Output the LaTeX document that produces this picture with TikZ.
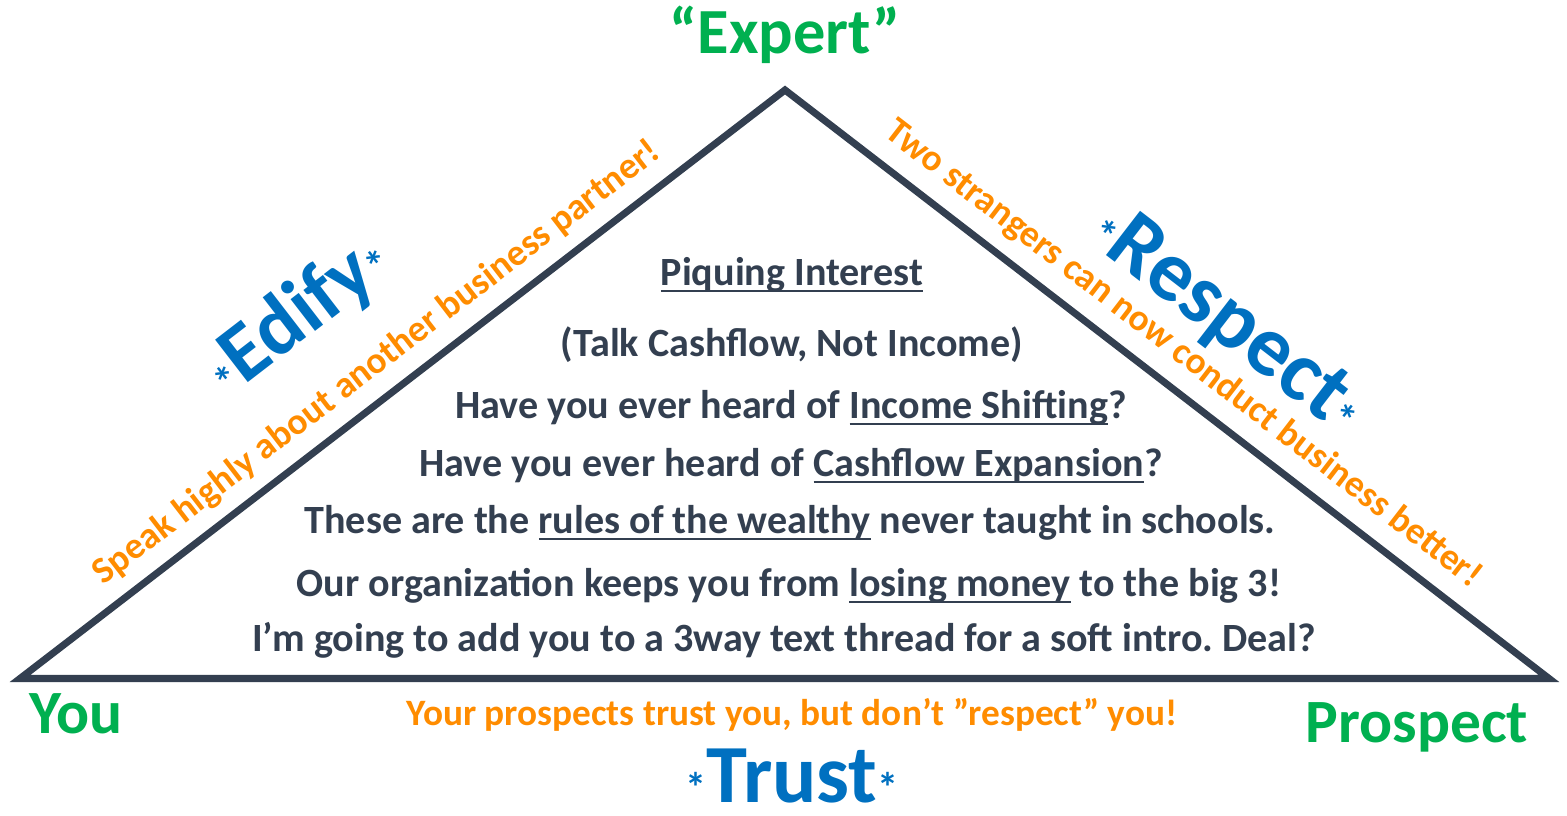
\documentclass[tikz,border=0pt]{standalone}
\usepackage{fontspec}
\setmainfont{Carlito}
\usepackage{tikz}

\definecolor{slate}{HTML}{333F50}
\definecolor{wingreen}{HTML}{00B050}
\definecolor{pillarblue}{HTML}{0070C0}
\definecolor{hintorange}{HTML}{FF8C00}

\newcommand{\undl}[1]{\setbox0=\hbox{#1}\rlap{\rule[-2.1pt]{\wd0}{0.6pt}}\box0\relax}
\newcommand{\tinyast}{{\fontsize{12}{14}\selectfont *}}
\frenchspacing

\begin{document}
\begin{tikzpicture}[x=0.01cm,y=-0.01cm,
  who/.style={font=\fontsize{17.5}{20}\selectfont\bfseries, text=wingreen, anchor=base},
  pillar/.style={font=\fontsize{23.5}{26}\selectfont\bfseries, text=pillarblue, anchor=base},
  hint/.style={font=\fontsize{10.6}{12}\selectfont\bfseries, text=hintorange, anchor=base},
  ask/.style={font=\fontsize{11.4}{13}\selectfont\bfseries, text=slate, anchor=base}]
\useasboundingbox (0,0) rectangle (1567,815);

% triangle
\coordinate (you) at (20,678.5);
\coordinate (top) at (785,90);
\coordinate (prospect) at (1549,678.5);
\draw [slate, line width=2pt, line join=miter] (you) -- (top) -- (prospect) -- cycle;

% corners
\node (expertlbl) at (785,54) [who, font=\fontsize{18.3}{22}\selectfont\bfseries] {“Expert”};
\node (youlbl) at (76,733) [who] {You};
\node (prospectlbl) at (1417,742) [who] {Prospect};

% sides
\node (edify) at (312,334) [pillar, rotate=37.6] {\tinyast Edify\tinyast};
\node (respect) at (1214,338) [pillar, rotate=-37.6, font=\fontsize{24.5}{28}\selectfont\bfseries] {\tinyast Respect\tinyast};
\node (trust) at (792,802) [pillar] {\tinyast Trust\tinyast};

\node (edifyhint) at (383,371) [hint, rotate=37.6] {Speak highly about another business partner!};
\node (respecthint) at (1177,362) [hint, rotate=-37.6] {Two strangers can now conduct business better!};
\node (trusthint) at (792,725) [hint] {Your prospects trust you, but don’t ”respect” you!};

% inside
\node (title) at (792,285) [ask] {\undl{Piquing Interest}};
\node (q0) at (792,356) [ask] {(Talk Cashflow, Not Income)};
\node (q1) at (791,418) [ask] {Have you ever heard of \undl{Income Shifting}?};
\node (q2) at (791,476) [ask] {Have you ever heard of \undl{Cashflow Expansion}?};
\node (q3) at (790,533) [ask] {These are the \undl{rules of the wealthy} never taught in schools.};
\node (q4) at (789,596) [ask] {Our organization keeps you from \undl{losing money} to the big 3!};
\node (q5) at (784,651) [ask] {I’m going to add you to a 3way text thread for a soft intro. Deal?};
\end{tikzpicture}
\end{document}
